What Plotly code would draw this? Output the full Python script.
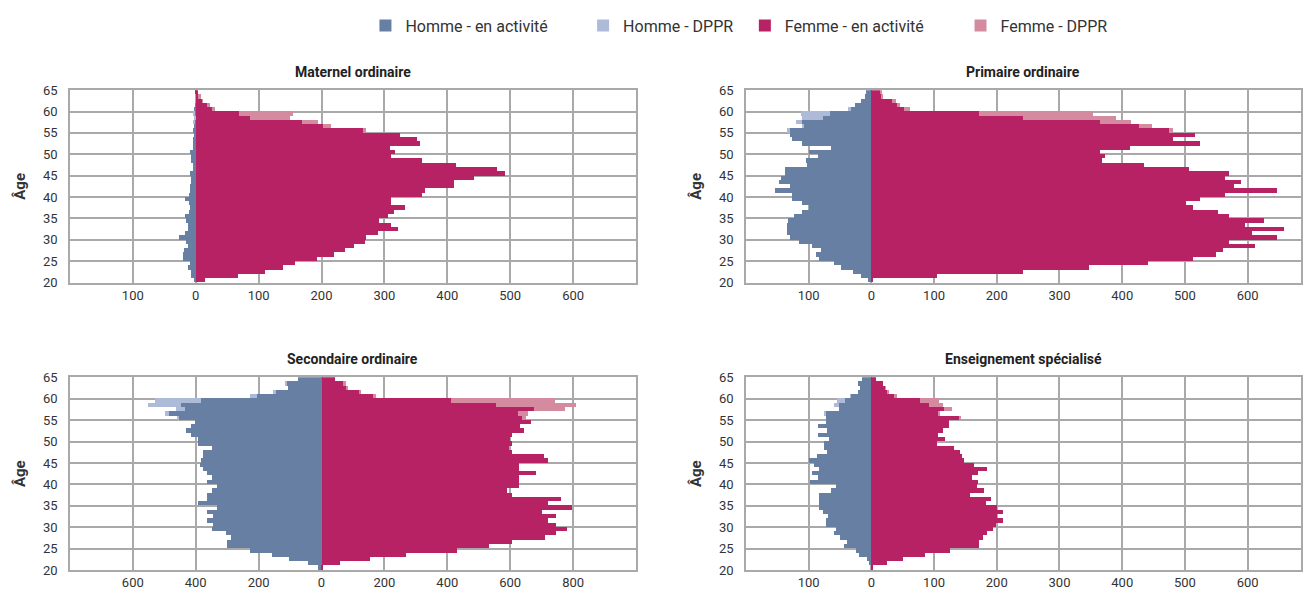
import plotly.graph_objects as go

ages = list(range(20, 65))

titles = ["Maternel ordinaire", "Primaire ordinaire",
          "Secondaire ordinaire", "Enseignement spécialisé"]
series_names = ["Homme - en activité", "Homme - DPPR",
                "Femme - en activité", "Femme - DPPR"]
age_ticks = [20, 25, 30, 35, 40, 45, 50, 55, 60, 65]

# ---- Maternel ordinaire (ages 20..64) ----
mat_homme_act = [3, 8, 8, 13, 9, 20, 20, 19, 12, 15, 26, 17, 13, 13, 15, 17, 11, 10, 11, 17,
                 11, 9, 9, 8, 8, 9, 5, 4, 8, 7, 9, 5, 4, 4, 3, 4, 3, 2, 1, 2, 2, 1, 0, 0, 0]
mat_homme_dppr = [0] * 37 + [1, 2, 2, 0, 0, 0, 0, 0]
mat_femme_act = [15, 67, 110, 139, 158, 193, 220, 237, 251, 269, 271, 290, 322, 311, 292, 305,
                 315, 333, 311, 311, 360, 365, 411, 410, 442, 492, 479, 413, 360, 310, 317, 308,
                 356, 352, 324, 267, 202, 169, 86, 68, 25, 19, 10, 5, 3]
mat_femme_dppr = [0] * 35 + [3, 13, 25, 63, 86, 5, 3, 1, 3, 0]

# ---- Primaire ordinaire ----
pri_homme_act = [5, 16, 30, 48, 59, 84, 88, 80, 94, 116, 130, 134, 134, 134, 133, 124, 110, 100,
                 110, 127, 127, 153, 130, 148, 144, 138, 138, 103, 105, 85, 99, 65, 110, 127,
                 130, 130, 108, 111, 77, 66, 33, 26, 17, 11, 8]
pri_homme_dppr = [0] * 35 + [4, 2, 9, 33, 47, 4, 0, 0, 0, 0]
pri_femme_act = [3, 105, 242, 346, 441, 512, 549, 561, 611, 570, 647, 607, 658, 596, 625, 570,
                 553, 513, 501, 524, 564, 647, 578, 589, 564, 570, 507, 434, 368, 372, 364, 412,
                 524, 480, 515, 475, 427, 364, 242, 172, 52, 41, 33, 16, 14]
pri_femme_dppr = [0] * 35 + [5, 20, 50, 148, 181, 9, 5, 6, 2, 3]

# ---- Secondaire ordinaire ----
sec_homme_act = [10, 43, 104, 157, 228, 302, 302, 289, 305, 349, 344, 364, 344, 364, 334, 394,
                 364, 364, 349, 334, 364, 349, 364, 378, 388, 382, 378, 378, 349, 394, 394, 415,
                 431, 415, 401, 456, 486, 434, 446, 382, 206, 144, 108, 111, 76]
sec_homme_dppr = [0] * 35 + [4, 12, 30, 106, 148, 21, 10, 0, 5, 0]
sec_femme_act = [5, 58, 153, 269, 430, 531, 604, 709, 746, 779, 745, 720, 744, 700, 796, 720,
                 760, 604, 590, 628, 628, 628, 683, 628, 628, 720, 707, 606, 596, 604, 600, 606,
                 643, 630, 667, 638, 623, 674, 555, 410, 163, 120, 80, 71, 41]
sec_femme_dppr = [0] * 35 + [13, 33, 99, 255, 333, 11, 4, 4, 5, 0]

# ---- Enseignement spécialisé ----
spe_homme_act = [0, 4, 7, 20, 25, 43, 39, 50, 59, 57, 72, 72, 69, 77, 84, 83, 84, 84, 65, 57,
                 98, 85, 95, 83, 92, 100, 87, 71, 75, 75, 67, 86, 71, 86, 72, 72, 73, 51, 51,
                 42, 33, 22, 19, 21, 15]
spe_homme_dppr = [0] * 36 + [2, 0, 8, 13, 1, 0, 0, 0, 0]
spe_femme_act = [1, 24, 50, 86, 125, 171, 171, 178, 184, 193, 198, 209, 200, 209, 200, 182,
                 190, 157, 179, 168, 170, 160, 170, 184, 163, 148, 145, 141, 132, 104, 118, 106,
                 114, 123, 123, 140, 107, 116, 91, 77, 36, 26, 22, 18, 8]
spe_femme_dppr = [0] * 35 + [2, 3, 12, 23, 30, 4, 2, 1, 0, 0]

panels_data = [
    (mat_homme_act, mat_homme_dppr, mat_femme_act, mat_femme_dppr),
    (pri_homme_act, pri_homme_dppr, pri_femme_act, pri_femme_dppr),
    (sec_homme_act, sec_homme_dppr, sec_femme_act, sec_femme_dppr),
    (spe_homme_act, spe_homme_dppr, spe_femme_act, spe_femme_dppr),
]

colors = ["#667fa3", "#adbbd8", "#b72264", "#d48b9f"]
signs = [-1, -1, 1, 1]

x_ranges = [[-200, 700], [-200, 685], [-800, 1000], [-200, 685]]
x_ticks = [list(range(-100, 700, 100)), list(range(-100, 700, 100)),
           list(range(-600, 1000, 200)), list(range(-100, 700, 100))]

W, H = 1303, 592
x_doms = [[70 / W, 637 / W], [747 / W, 1.0], [70 / W, 637 / W], [747 / W, 1.0]]
y_doms = [[1 - 282.7 / H, 1 - 85.3 / H], [1 - 282.7 / H, 1 - 85.3 / H],
          [1 - 577.7 / H, 1 - 380 / H], [1 - 577.7 / H, 1 - 380 / H]]

TXT = "Roboto, Liberation Sans, sans-serif"
GRID = "#a9a9a9"

fig = go.Figure()
ymid = [a + 0.5 for a in ages]

for p, data in enumerate(panels_data):
    ax = "" if p == 0 else str(p + 1)
    for s in range(4):
        vals = data[s]
        fig.add_trace(go.Bar(
            y=ymid, x=[signs[s] * v for v in vals], customdata=vals,
            orientation="h", width=1.0,
            marker=dict(color=colors[s], line=dict(width=0)),
            name=series_names[s], showlegend=(p == 0),
            legend="legend" if s == 0 else "legend%d" % (s + 1),
            xaxis="x" + ax, yaxis="y" + ax,
            hovertemplate="Âge %{y:.0f}: %{customdata}<extra>" + series_names[s] + "</extra>",
        ))

layout = dict(
    width=W, height=H, margin=dict(l=0, r=0, t=0, b=0),
    paper_bgcolor="white", plot_bgcolor="white",
    barmode="relative", bargap=0,
    font=dict(family=TXT, color="#333333", size=14),
)

for p in range(4):
    ax = "" if p == 0 else str(p + 1)
    layout["xaxis" + ax] = dict(
        domain=x_doms[p], anchor="y" + ax, range=x_ranges[p],
        tickvals=x_ticks[p], ticktext=[str(abs(v)) for v in x_ticks[p]],
        showgrid=True, gridcolor=GRID, gridwidth=1.5, zeroline=False,
        showline=True, linecolor=GRID, linewidth=1.5, mirror=True,
        ticks="", tickfont=dict(size=13, color="#333333"),
    )
    layout["yaxis" + ax] = dict(
        domain=y_doms[p], anchor="x" + ax, range=[20, 65],
        tickvals=age_ticks,
        showgrid=True, gridcolor=GRID, gridwidth=1.5, zeroline=False,
        showline=True, linecolor=GRID, linewidth=1.5, mirror=True,
        ticks="", ticklabelstandoff=8,
        tickfont=dict(size=13, color="#333333"),
        title=dict(text="<b>Âge</b>", standoff=14,
                   font=dict(size=15, color="#333333")),
    )

annotations = []
for p in range(4):
    xc = (x_doms[p][0] + x_doms[p][1]) / 2
    yt = y_doms[p][1] + 19 / H
    annotations.append(dict(
        text="<b>%s</b>" % titles[p], x=xc, y=yt, xref="paper", yref="paper",
        showarrow=False, xanchor="center", yanchor="middle",
        font=dict(size=14, color="#222222")))
layout["annotations"] = annotations

leg_x = [366 / W, 584 / W, 746 / W, 962 / W]
for s in range(4):
    key = "legend" if s == 0 else "legend%d" % (s + 1)
    layout[key] = dict(
        x=leg_x[s], y=1 - 19 / H, xanchor="left", yanchor="middle",
        orientation="h", itemwidth=30, bgcolor="rgba(0,0,0,0)",
        font=dict(size=16, color="#333333"),
    )

fig.update_layout(**layout)
fig.write_html("out.html")
